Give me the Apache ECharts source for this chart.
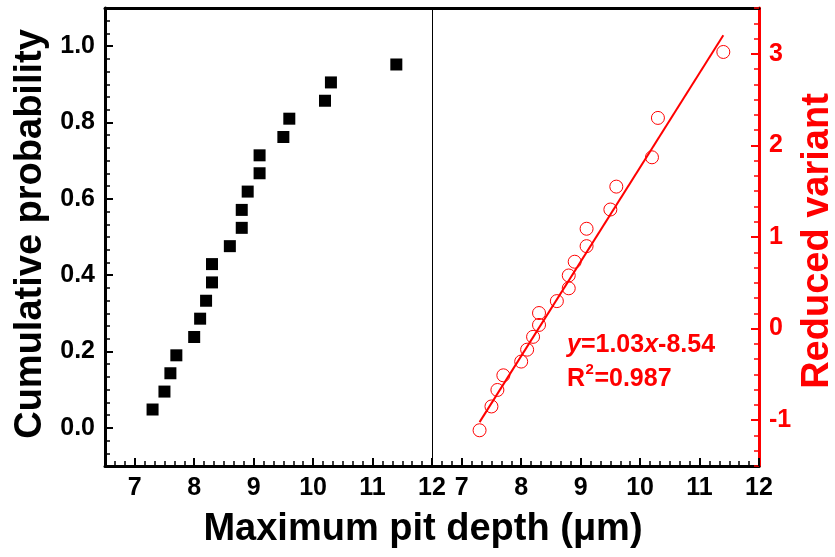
<!DOCTYPE html>
<html>
<head>
<meta charset="utf-8">
<script src="https://cdn.jsdelivr.net/npm/echarts@6/dist/echarts.min.js"></script>
<style>
  html, body { margin: 0; padding: 0; background: #ffffff; }
  #chart { width: 835px; height: 557px; }
</style>
</head>
<body>
<div id="chart"></div>
<script>
// Ranked maximum pit depths (µm)
const depth = [7.3, 7.5, 7.6, 7.7, 8.0, 8.1, 8.2, 8.3, 8.3, 8.6,
               8.8, 8.8, 8.9, 9.1, 9.1, 9.5, 9.6, 10.2, 10.3, 11.4];
// Cumulative probability of each ranked depth
const cumulativeProb = [0.048, 0.095, 0.143, 0.190, 0.238, 0.286, 0.333, 0.381, 0.429, 0.476,
                        0.524, 0.571, 0.619, 0.667, 0.714, 0.762, 0.810, 0.857, 0.905, 0.952];
// Gumbel reduced variant of each ranked depth
const reducedVariant = [-1.11, -0.85, -0.67, -0.51, -0.36, -0.23, -0.09, 0.04, 0.17, 0.30,
                        0.44, 0.58, 0.73, 0.90, 1.09, 1.30, 1.55, 1.87, 2.30, 3.02];

// Tick labels
const depthTicks = [7, 8, 9, 10, 11, 12];
const probTicks = [0, 0.2, 0.4, 0.6, 0.8, 1.0];
const variantTicks = [-1, 0, 1, 2, 3];

// Linear fit of reduced variant vs depth
const fitSlope = 1.03;
const fitIntercept = -8.54;
const fitR2 = 0.987;
const fitSpan = [7.3, 11.4];

const FONT = '"Liberation Sans", Arial, Helvetica, sans-serif';
const RED = '#ff0000';
const BLACK = '#000000';

// Axis carrying the line and the short ticks at every subdivision
function fineAxis(gridIndex, position, min, max, step, color) {
  return {
    type: 'value', gridIndex, position, min, max, interval: step,
    axisLine: { show: true, onZero: false, lineStyle: { color, width: 3 } },
    axisTick: { show: true, inside: true, length: 5, lineStyle: { color, width: 1.5 } },
    minorTick: { show: true, splitNumber: 3, length: 5, lineStyle: { color, width: 1.5 } },
    axisLabel: { show: false },
    splitLine: { show: false }
  };
}

// Axis carrying the long ticks and their labels
function majorAxis(gridIndex, position, min, max, ticks, color, fmt) {
  return {
    type: 'value', gridIndex, position, min, max,
    axisLine: { show: false, onZero: false },
    axisTick: { show: true, inside: true, length: 8, customValues: ticks, lineStyle: { color, width: 2 } },
    axisLabel: {
      show: true, customValues: ticks, margin: 10, color,
      fontSize: 25, fontWeight: 'bold', fontFamily: FONT, formatter: fmt
    },
    splitLine: { show: false }
  };
}

// Plain frame line along one side of a panel
function frameLine(gridIndex, position, min, max, width) {
  return {
    type: 'value', gridIndex, position, min, max,
    axisLine: { show: true, onZero: false, lineStyle: { color: BLACK, width } },
    axisTick: { show: false }, axisLabel: { show: false }, splitLine: { show: false }
  };
}

const intFmt = v => String(Math.round(v));
const probFmt = v => v.toFixed(1);

// Text width helper for laying out the fit equation piece by piece
const measureCtx = document.createElement('canvas').getContext('2d');
function textWidth(text, font) {
  measureCtx.font = font;
  return measureCtx.measureText(text).width;
}

function label(text, x, y, font, color, opts) {
  opts = opts || {};
  return {
    type: 'text', x, y, rotation: opts.rotation || 0,
    style: {
      text, fill: color, font,
      textAlign: opts.align || 'left', textVerticalAlign: 'middle'
    }
  };
}

// Fit equation: "y=1.03x-8.54" and "R2=0.987" with italic variables and a raised 2
const EQ = 'bold 25px ' + FONT;
const EQ_IT = 'italic bold 25px ' + FONT;
const SUP = 'bold 15px ' + FONT;
const eqParts = [
  ['y', EQ_IT],
  ['=' + fitSlope.toFixed(2), EQ],
  ['x', EQ_IT],
  [fitIntercept.toFixed(2), EQ]
];
const eqX = 567, eqY = 345, r2Y = 379;
const equation = [];
let cursor = eqX;
eqParts.forEach(([t, f]) => {
  equation.push(label(t, cursor, eqY, f, RED));
  cursor += textWidth(t, f);
});
const rW = textWidth('R', EQ);
const supW = textWidth('2', SUP);
equation.push(label('R', eqX, r2Y, EQ, RED));
equation.push(label('2', eqX + rW + 0.5, r2Y - 9, SUP, RED));
equation.push(label('=' + fitR2.toFixed(3), eqX + rW + supW + 1, r2Y, EQ, RED));

const chart = echarts.init(document.getElementById('chart'));

const option = {
  animation: false,
  grid: [
    { left: 105, top: 8, width: 327, height: 458 },
    { left: 432, top: 8, width: 327, height: 458 }
  ],
  xAxis: [
    fineAxis(0, 'bottom', 6.5, 12, 0.5, BLACK),
    majorAxis(0, 'bottom', 6.5, 12, depthTicks, BLACK, intFmt),
    frameLine(0, 'top', 6.5, 12, 3),
    fineAxis(1, 'bottom', 6.5, 12, 0.5, BLACK),
    majorAxis(1, 'bottom', 6.5, 12, depthTicks, BLACK, intFmt),
    frameLine(1, 'top', 6.5, 12, 3)
  ],
  yAxis: [
    fineAxis(0, 'left', -0.1, 1.1, 0.1, BLACK),
    majorAxis(0, 'left', -0.1, 1.1, probTicks, BLACK, probFmt),
    frameLine(0, 'right', -0.1, 1.1, 1),
    fineAxis(1, 'right', -1.5, 3.5, 0.5, RED),
    majorAxis(1, 'right', -1.5, 3.5, variantTicks, RED, intFmt)
  ],
  series: [
    {
      name: 'Cumulative probability', type: 'scatter',
      xAxisIndex: 1, yAxisIndex: 1,
      symbol: 'rect', symbolSize: 12,
      itemStyle: { color: BLACK, opacity: 1 },
      data: depth.map((d, i) => [d, cumulativeProb[i]])
    },
    {
      name: 'Reduced variant', type: 'scatter',
      xAxisIndex: 4, yAxisIndex: 4,
      symbol: 'circle', symbolSize: 13,
      itemStyle: { color: 'rgba(255,255,255,0)', borderColor: RED, borderWidth: 1, opacity: 1 },
      data: depth.map((d, i) => [d, reducedVariant[i]])
    },
    {
      name: 'Linear fit', type: 'line',
      xAxisIndex: 4, yAxisIndex: 4,
      showSymbol: false, symbol: 'none',
      lineStyle: { color: RED, width: 2 },
      data: fitSpan.map(x => [x, fitSlope * x + fitIntercept])
    }
  ],
  graphic: [
    label('Maximum pit depth (μm)', 423, 530, 'bold 38px ' + FONT, BLACK, { align: 'center' }),
    label('Cumulative probability', 31, 234, 'bold 38px ' + FONT, BLACK, { align: 'center', rotation: Math.PI / 2 }),
    label('Reduced variant', 818, 241, 'bold 38px ' + FONT, RED, { align: 'center', rotation: Math.PI / 2 })
  ].concat(equation)
};

chart.setOption(option);
</script>
</body>
</html>
